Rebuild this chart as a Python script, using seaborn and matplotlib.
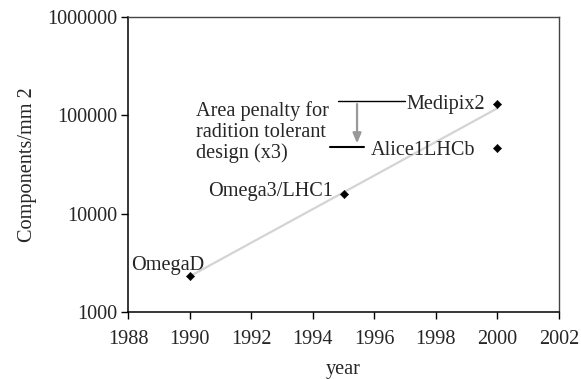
import matplotlib
matplotlib.use("Agg")
import matplotlib.pyplot as plt
import seaborn as sns
import pandas as pd
from matplotlib.ticker import FixedLocator, FixedFormatter

sns.set_style("white")
plt.rcParams['font.family'] = ['Liberation Serif', 'DejaVu Serif']

names = ["OmegaD", "Omega3/LHC1", "Medipix2", "Alice1LHCb"]
years = [1990, 1995, 2000, 2000]
values = [2300, 16000, 130000, 46000]
trend_years = [1990, 2000]
trend_values = [2300, 118000]
xticks = [1988, 1990, 1992, 1994, 1996, 1998, 2000, 2002]
yticks = [1000, 10000, 100000, 1000000]

df = pd.DataFrame({"name": names, "year": years, "value": values})
tdf = pd.DataFrame({"year": trend_years, "value": trend_values})

fig = plt.figure(figsize=(5.81, 3.79), dpi=100)
ax = fig.add_axes([128/581, 1 - 312/379, (559-128)/581, (312-17)/379])

sns.lineplot(data=tdf, x="year", y="value", ax=ax, color="#d4d4d4", lw=1.6)
sns.scatterplot(data=df, x="year", y="value", ax=ax, marker="D", s=18,
                color="black", edgecolor="black", zorder=5)

fs = 14.6
ax.set_yscale("log")
ax.set_xlim(1988, 2002)
ax.set_ylim(1000, 1000000)
ax.xaxis.set_major_locator(FixedLocator(xticks))
ax.xaxis.set_major_formatter(FixedFormatter([str(t) for t in xticks]))
ax.yaxis.set_major_locator(FixedLocator(yticks))
ax.yaxis.set_major_formatter(FixedFormatter([str(t) for t in yticks]))
ax.yaxis.set_minor_locator(FixedLocator([]))
ax.tick_params(axis="both", which="major", direction="out", length=5,
               width=1, color="black", labelsize=fs, left=True, bottom=True)
ax.tick_params(axis="x", pad=8)
ax.tick_params(axis="y", pad=3)
ax.set_xlabel("year", fontsize=fs, labelpad=8)
ax.set_ylabel("Components/mm 2", fontsize=fs, labelpad=7)

for side in ["left", "bottom"]:
    ax.spines[side].set_color("black")
    ax.spines[side].set_linewidth(1.1)
for side in ["top", "right"]:
    ax.spines[side].set_color("#444444")
    ax.spines[side].set_linewidth(1.0)

ax.text(1997.05, 128000, "Medipix2", fontsize=fs, ha="left", va="center")
ax.text(1995.9, 44000, "Alice1LHCb", fontsize=fs, ha="left", va="center")
ax.text(1990.6, 17000, "Omega3/LHC1", fontsize=fs, ha="left", va="center")
ax.text(1988.1, 3000, "OmegaD", fontsize=fs, ha="left", va="center")
ax.text(1990.2, 139000, "Area penalty for\nradition tolerant\ndesign (x3)",
        fontsize=fs, ha="left", va="top", linespacing=1.1)

ax.plot([1994.82, 1997.0], [139000, 139000], color="black", lw=1.0)
ax.plot([1994.56, 1995.66], [47300, 47300], color="black", lw=1.5)
ax.annotate("", xy=(1995.44, 48500), xytext=(1995.44, 139000),
            arrowprops=dict(arrowstyle="-|>,head_width=0.25,head_length=0.6",
                            color="#999999", lw=1.6))

fig.savefig("out.png", dpi=100)
